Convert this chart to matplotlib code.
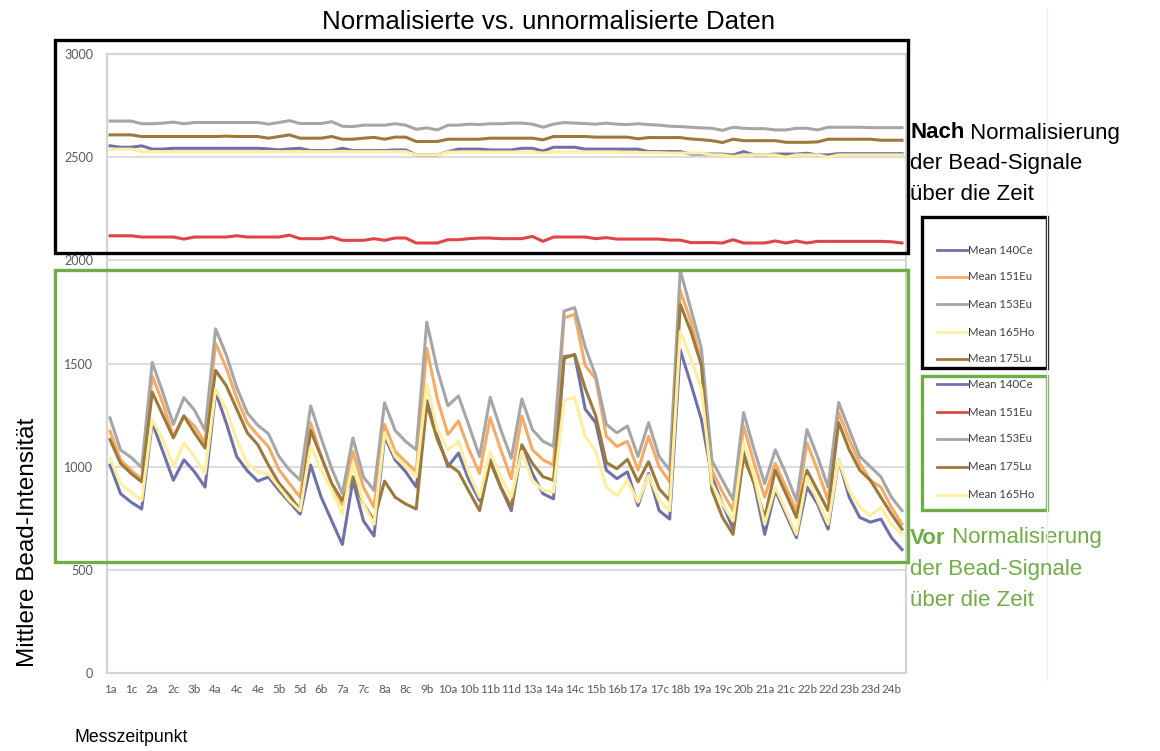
import matplotlib
matplotlib.use("Agg")
import matplotlib.pyplot as plt
from matplotlib.lines import Line2D
from matplotlib.patches import Rectangle

# Messzeitpunkte (nur jeder zweite wird beschriftet)
cats = ['1a', '1b', '1c', '1d', '2a', '2b', '2c', '3a', '3b', '3c',
        '4a', '4b', '4c', '4d', '4e', '5a', '5b', '5c', '5d', '6a',
        '6b', '6c', '7a', '7b', '7c', '7d', '8a', '8b', '8c', '9a',
        '9b', '9c', '10a', '10a2', '10b', '11a', '11b', '11c', '11d', '12a',
        '13a', '13b', '14a', '14b', '14c', '15a', '15b', '16a', '16b', '16c',
        '17a', '17b', '17c', '18a', '18b', '18c', '19a', '19b', '19c', '20a',
        '20b', '20c', '21a', '21b', '21c', '22a', '22b', '22c', '22d', '23a',
        '23b', '23c', '23d', '24a', '24b', '24c']

# nach Normalisierung
norm_140ce = [2555, 2548, 2548, 2555, 2539, 2539, 2543, 2543, 2543, 2543,
              2543, 2543, 2543, 2543, 2543, 2540, 2535, 2540, 2543, 2532,
              2532, 2532, 2543, 2532, 2532, 2532, 2532, 2535, 2535, 2511,
              2511, 2511, 2527, 2539, 2539, 2539, 2535, 2535, 2535, 2543,
              2543, 2530, 2548, 2548, 2548, 2539, 2539, 2539, 2539, 2539,
              2539, 2527, 2527, 2527, 2527, 2515, 2515, 2515, 2515, 2510,
              2527, 2511, 2511, 2515, 2515, 2515, 2519, 2511, 2511, 2517,
              2517, 2517, 2517, 2517, 2517, 2517]
norm_151eu = [2119, 2119, 2119, 2113, 2113, 2113, 2113, 2103, 2113, 2113,
              2113, 2113, 2119, 2113, 2113, 2113, 2113, 2122, 2105, 2105,
              2105, 2113, 2097, 2097, 2097, 2105, 2097, 2108, 2108, 2084,
              2084, 2084, 2100, 2100, 2105, 2108, 2108, 2105, 2105, 2105,
              2116, 2092, 2113, 2113, 2113, 2113, 2105, 2110, 2103, 2103,
              2103, 2103, 2103, 2098, 2098, 2086, 2086, 2086, 2084, 2100,
              2084, 2084, 2084, 2094, 2084, 2094, 2084, 2092, 2092, 2092,
              2092, 2092, 2092, 2092, 2090, 2084]
norm_153eu = [2675, 2675, 2675, 2662, 2662, 2665, 2670, 2662, 2668, 2668,
              2668, 2668, 2668, 2668, 2668, 2660, 2668, 2677, 2663, 2663,
              2663, 2672, 2650, 2648, 2655, 2655, 2655, 2662, 2655, 2635,
              2642, 2632, 2655, 2655, 2660, 2658, 2662, 2662, 2665, 2665,
              2660, 2645, 2660, 2668, 2665, 2663, 2660, 2665, 2660, 2658,
              2662, 2658, 2655, 2650, 2648, 2645, 2642, 2640, 2630, 2645,
              2640, 2638, 2638, 2632, 2632, 2640, 2640, 2632, 2645, 2645,
              2645, 2645, 2643, 2643, 2643, 2643]
norm_165ho = [2539, 2539, 2539, 2527, 2527, 2527, 2527, 2527, 2527, 2527,
              2527, 2527, 2527, 2527, 2527, 2527, 2527, 2527, 2527, 2527,
              2527, 2527, 2527, 2527, 2527, 2527, 2527, 2527, 2527, 2511,
              2511, 2511, 2525, 2525, 2525, 2525, 2525, 2525, 2525, 2525,
              2525, 2520, 2525, 2525, 2525, 2525, 2525, 2525, 2525, 2522,
              2522, 2522, 2522, 2520, 2520, 2520, 2520, 2511, 2511, 2503,
              2511, 2511, 2511, 2511, 2500, 2511, 2511, 2511, 2500, 2511,
              2511, 2511, 2511, 2511, 2511, 2511]
norm_175lu = [2608, 2608, 2608, 2600, 2600, 2600, 2600, 2600, 2600, 2600,
              2600, 2602, 2600, 2600, 2600, 2592, 2600, 2608, 2592, 2592,
              2592, 2600, 2587, 2587, 2592, 2596, 2587, 2597, 2597, 2576,
              2576, 2576, 2587, 2587, 2587, 2587, 2592, 2592, 2592, 2592,
              2592, 2584, 2600, 2600, 2600, 2600, 2597, 2597, 2597, 2597,
              2589, 2595, 2595, 2595, 2595, 2588, 2585, 2580, 2571, 2587,
              2580, 2580, 2580, 2580, 2572, 2572, 2572, 2574, 2587, 2587,
              2587, 2587, 2587, 2582, 2582, 2582]

# vor Normalisierung
raw_140ce = [1008, 869, 828, 795, 1213, 1074, 934, 1033, 975, 901,
             1361, 1213, 1049, 980, 930, 950, 885, 828, 770, 1008,
             852, 737, 623, 934, 737, 664, 1147, 1033, 975, 901,
             1320, 1147, 1000, 1066, 934, 836, 1033, 901, 787, 1098,
             967, 869, 844, 1533, 1541, 1279, 1213, 983, 942, 975,
             811, 967, 787, 746, 1566, 1402, 1229, 951, 819, 700,
             1090, 918, 672, 885, 770, 656, 901, 819, 697, 1033,
             852, 754, 731, 746, 656, 598]
raw_151eu = [1172, 1033, 983, 938, 1440, 1307, 1147, 1246, 1197, 1115,
             1598, 1480, 1332, 1213, 1152, 1098, 985, 918, 852, 1213,
             1049, 918, 815, 1074, 901, 803, 1205, 1074, 1024, 975,
             1574, 1328, 1156, 1221, 1082, 967, 1238, 1082, 942, 1246,
             1082, 1033, 1008, 1721, 1738, 1490, 1426, 1147, 1098, 1123,
             983, 1147, 1000, 926, 1853, 1705, 1508, 983, 877, 787,
             1197, 1016, 852, 1016, 901, 787, 1115, 983, 836, 1262,
             1131, 1016, 934, 901, 803, 721]
raw_153eu = [1236, 1081, 1045, 996, 1505, 1360, 1205, 1335, 1274, 1176,
             1668, 1543, 1384, 1261, 1200, 1160, 1049, 984, 935, 1294,
             1138, 990, 870, 1139, 950, 885, 1310, 1176, 1122, 1082,
             1700, 1470, 1295, 1343, 1197, 1049, 1336, 1180, 1041, 1328,
             1180, 1123, 1098, 1754, 1771, 1580, 1440, 1205, 1164, 1197,
             1049, 1213, 1049, 983, 1951, 1765, 1574, 1030, 934, 840,
             1262, 1082, 918, 1082, 967, 836, 1180, 1049, 901, 1311,
             1180, 1049, 1000, 951, 852, 787]
raw_165ho = [1041, 918, 877, 836, 1229, 1131, 1000, 1115, 1049, 967,
             1377, 1279, 1131, 1016, 975, 965, 901, 836, 787, 1098,
             983, 885, 770, 1016, 819, 721, 1164, 1049, 1000, 951,
             1400, 1180, 1082, 1123, 967, 852, 1074, 951, 852, 1074,
             934, 885, 877, 1320, 1336, 1147, 1074, 901, 860, 934,
             828, 959, 836, 787, 1656, 1525, 1377, 918, 819, 737,
             1115, 951, 721, 901, 787, 672, 951, 836, 721, 1033,
             885, 803, 762, 803, 721, 672]
raw_175lu = [1131, 1016, 967, 926, 1361, 1250, 1139, 1246, 1164, 1090,
             1467, 1393, 1279, 1164, 1106, 1008, 920, 860, 790, 1175,
             1049, 918, 836, 951, 819, 740, 930, 852, 819, 795,
             1305, 1131, 1012, 975, 880, 787, 1024, 901, 803, 1106,
             1016, 951, 934, 1525, 1544, 1380, 1246, 1020, 990, 1035,
             926, 1024, 893, 836, 1787, 1656, 1492, 885, 754, 672,
             1049, 918, 754, 983, 869, 754, 983, 885, 787, 1213,
             1082, 983, 934, 852, 770, 697]

c_blue = '#7171aa'
c_orange = '#f7aa62'
c_grey = '#a6a6a6'
c_yellow = '#fdef9e'
c_brown = '#9d7a3b'
c_red = '#e04545'
c_green = '#70ad47'

W, H = 1160, 751


def fx(px):
    return px / W


def fy(py):
    return 1 - py / H


plt.rcParams['font.family'] = ['Liberation Sans', 'DejaVu Sans']

fig = plt.figure(figsize=(W / 100, H / 100), dpi=100)
ax = fig.add_axes([fx(107), fy(673), fx(906) - fx(107), fy(54) - fy(673)])

x = list(range(len(cats)))
lw = 2.2

# obere Kurven (normalisiert)
for vals, col in [(norm_140ce, c_blue), (norm_151eu, c_red), (norm_153eu, c_grey),
                  (norm_165ho, c_yellow), (norm_175lu, c_brown)]:
    ax.plot(x, vals, color=col, lw=lw, solid_joinstyle='round')

# untere Kurven (roh)
for vals, col in [(raw_140ce, c_blue), (raw_151eu, c_orange), (raw_153eu, c_grey),
                  (raw_175lu, c_brown), (raw_165ho, c_yellow)]:
    ax.plot(x, vals, color=col, lw=lw, solid_joinstyle='round')

ax.set_xlim(-3 / 10.56, len(cats) - 1 + 4 / 10.56)
ax.set_ylim(0, 3000)
ax.set_yticks(range(0, 3001, 500))
ax.set_xticks(x[::2])
ax.set_xticklabels(cats[::2])
ax.yaxis.grid(True, color='#d9d9d9', lw=1.3)
ax.set_axisbelow(True)
for sp in ax.spines.values():
    sp.set_color('#d4d4d4')
    sp.set_linewidth(1.6)
ax.tick_params(length=0, labelcolor='#595959')
ax.tick_params(axis='y', pad=10, labelsize=9)
ax.tick_params(axis='x', pad=8, labelsize=8.4)
for lab in ax.get_xticklabels() + ax.get_yticklabels():
    lab.set_family(['Lato', 'DejaVu Sans'])

# Rahmen um die beiden Bereiche
fig.add_artist(Rectangle((fx(55), fy(253)), fx(908) - fx(55), fy(40) - fy(253),
                         fill=False, ec='black', lw=2.4, transform=fig.transFigure))
fig.add_artist(Rectangle((fx(55), fy(562)), fx(908) - fx(55), fy(270) - fy(562),
                         fill=False, ec=c_green, lw=2.4, transform=fig.transFigure))

# dünne Linie rechts (Diagrammrand)
fig.add_artist(Line2D([fx(1047), fx(1047)], [fy(8), fy(680)], color='#ececec',
                      lw=1.0, transform=fig.transFigure))

# Legenden
fig.add_artist(Rectangle((fx(922), fy(368)), fx(1047) - fx(922), fy(217) - fy(368),
                         fill=False, ec='black', lw=2.4, transform=fig.transFigure))
fig.add_artist(Rectangle((fx(922), fy(510)), fx(1047) - fx(922), fy(376) - fy(510),
                         fill=False, ec=c_green, lw=2.4, transform=fig.transFigure))

leg_top = [('Mean 140Ce', c_blue), ('Mean 151Eu', c_orange), ('Mean 153Eu', c_grey),
           ('Mean 165Ho', c_yellow), ('Mean 175Lu', c_brown)]
leg_bot = [('Mean 140Ce', c_blue), ('Mean 151Eu', c_red), ('Mean 153Eu', c_grey),
           ('Mean 175Lu', c_brown), ('Mean 165Ho', c_yellow)]
for entries, ys in [(leg_top, [250, 277, 304, 332, 359]),
                    (leg_bot, [384, 412, 439, 467, 495])]:
    for (lab, col), yy in zip(entries, ys):
        fig.add_artist(Line2D([fx(937), fx(967)], [fy(yy), fy(yy)], color=col,
                              lw=2.0, transform=fig.transFigure))
        fig.text(fx(968), fy(yy), lab, fontsize=8.2, color='#404040', va='center',
                 family=['Lato', 'DejaVu Sans'])

# Texte
fig.text(fx(548), fy(22), 'Normalisierte vs. unnormalisierte Daten', fontsize=18.6,
         ha='center', va='center')

side_fs = 16
t1 = fig.text(fx(910), fy(133), 'Nach', fontsize=side_fs, weight='bold', va='center')
ax.annotate(' Normalisierung', xy=(1, 0.5), xycoords=t1, fontsize=side_fs,
            va='center', ha='left', annotation_clip=False)
fig.text(fx(910), fy(164), 'der Bead-Signale', fontsize=side_fs, va='center')
fig.text(fx(910), fy(195), 'über die Zeit', fontsize=side_fs, va='center')

t2 = fig.text(fx(910), fy(538), 'Vor', fontsize=side_fs, weight='bold', va='center',
              color=c_green)
ax.annotate(' Normalisierung', xy=(1, 0.5), xycoords=t2, fontsize=side_fs,
            va='center', ha='left', color=c_green, annotation_clip=False)
fig.text(fx(910), fy(569), 'der Bead-Signale', fontsize=side_fs, va='center', color=c_green)
fig.text(fx(910), fy(600), 'über die Zeit', fontsize=side_fs, va='center', color=c_green)

fig.text(fx(28), fy(542), 'Mittlere Bead-Intensität', fontsize=17.5, rotation=90,
         ha='center', va='center')
fig.text(fx(75), fy(738), 'Messzeitpunkt', fontsize=12.8, ha='left', va='center')

fig.savefig('out.png', dpi=100)
